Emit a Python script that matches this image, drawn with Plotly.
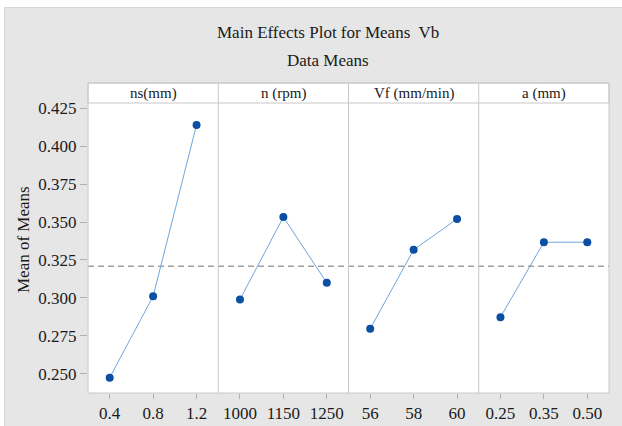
import plotly.graph_objects as go

# ---- data ----
factors = ["ns(mm)", "n (rpm)", "Vf (mm/min)", "a (mm)"]
ns_levels = ["0.4", "0.8", "1.2"]
ns_means = [0.2474, 0.3011, 0.4140]
n_levels = ["1000", "1150", "1250"]
n_means = [0.2989, 0.3533, 0.3099]
vf_levels = ["56", "58", "60"]
vf_means = [0.2796, 0.3317, 0.3520]
a_levels = ["0.25", "0.35", "0.50"]
a_means = [0.2873, 0.3367, 0.3367]
grand_mean = 0.3208
y_ticks = [0.250, 0.275, 0.300, 0.325, 0.350, 0.375, 0.400, 0.425]

levels = [ns_levels, n_levels, vf_levels, a_levels]
means = [ns_means, n_means, vf_means, a_means]

FONT = "Liberation Serif"
BORDER = "#C8C8C8"
TXT = "#1a1a1a"
W, H = 622, 426
L, R, T, B = 88, 13, 103, 33
PW = W - L - R
PH = H - T - B

def px_x(p):
    return (p - L) / PW

def px_y(p):
    return (H - B - p) / PH

fig = go.Figure()
for i in range(4):
    xa = "x" if i == 0 else f"x{i+1}"
    fig.add_trace(go.Scatter(
        x=levels[i], y=means[i], xaxis=xa, yaxis="y",
        mode="lines+markers",
        line=dict(color="#6FA6DD", width=1),
        marker=dict(color="#0A4FA3", size=8),
        showlegend=False, hoverinfo="x+y"))

layout = dict(
    width=W, height=H, autosize=False,
    margin=dict(l=L, r=R, t=T, b=B, pad=0, autoexpand=False),
    paper_bgcolor="#E6E6E6",
    plot_bgcolor="white",
    font=dict(family=FONT, size=17, color=TXT),
    showlegend=False,
    yaxis=dict(range=[0.23727, 0.42849], tickvals=y_ticks, tickformat=".3f",
               ticks="outside", ticklen=7, tickcolor="#B0B0B0",
               showgrid=False, zeroline=False, showline=False,
               automargin=False,
               tickfont=dict(family=FONT, size=17, color=TXT),
               anchor="x"),
)
for i in range(4):
    key = "xaxis" if i == 0 else f"xaxis{i+1}"
    layout[key] = dict(domain=[i / 4, (i + 1) / 4], type="category",
                       range=[-0.5, 2.5], anchor="y",
                       ticks="outside", ticklen=5, tickcolor="#B0B0B0",
                       automargin=False,
                       showgrid=False, zeroline=False, showline=False,
                       tickfont=dict(family=FONT, size=17, color=TXT))
fig.update_layout(**layout)

hdr_top = px_y(83)
shapes = []
# white strips at top/left edge of the picture
shapes.append(dict(type="rect", xref="paper", yref="paper",
                   x0=px_x(0), x1=px_x(W), y0=px_y(7), y1=px_y(0),
                   fillcolor="white", line=dict(width=0), layer="above"))
shapes.append(dict(type="rect", xref="paper", yref="paper",
                   x0=px_x(0), x1=px_x(4), y0=px_y(H), y1=px_y(0),
                   fillcolor="white", line=dict(width=0), layer="above"))
shapes.append(dict(type="line", xref="paper", yref="paper",
                   x0=px_x(4), x1=px_x(W), y0=px_y(7.5), y1=px_y(7.5),
                   line=dict(color="#D6D6D6", width=1)))
shapes.append(dict(type="line", xref="paper", yref="paper",
                   x0=px_x(4.5), x1=px_x(4.5), y0=px_y(H), y1=px_y(7),
                   line=dict(color="#D6D6D6", width=1)))
# header strip
shapes.append(dict(type="rect", xref="paper", yref="paper",
                   x0=0, x1=1, y0=1, y1=hdr_top,
                   fillcolor="white", line=dict(color=BORDER, width=1)))
# outer frame
shapes.append(dict(type="rect", xref="paper", yref="paper",
                   x0=0, x1=1, y0=0, y1=hdr_top,
                   line=dict(color=BORDER, width=1)))
for d in (0.25, 0.5, 0.75):
    shapes.append(dict(type="line", xref="paper", yref="paper",
                       x0=d, x1=d, y0=0, y1=hdr_top,
                       line=dict(color=BORDER, width=1)))
# reference line (grand mean)
shapes.append(dict(type="line", xref="paper", yref="y",
                   x0=0, x1=1, y0=grand_mean, y1=grand_mean,
                   line=dict(color="#A0A0A0", width=1.5, dash="6px,4px"),
                   layer="below"))
fig.update_layout(shapes=shapes)

ann = []
for i, f in enumerate(factors):
    ann.append(dict(text=f, xref="paper", yref="paper",
                    x=(i + 0.5) / 4, y=(1 + hdr_top) / 2,
                    xanchor="center", yanchor="middle", showarrow=False,
                    font=dict(family=FONT, size=15, color=TXT)))
ann.append(dict(text="Main Effects Plot for Means  Vb", xref="paper", yref="paper",
                x=px_x(328), y=px_y(32), xanchor="center", yanchor="middle",
                showarrow=False, font=dict(family=FONT, size=17, color=TXT)))
ann.append(dict(text="Data Means", xref="paper", yref="paper",
                x=px_x(328), y=px_y(61), xanchor="center", yanchor="middle",
                showarrow=False, font=dict(family=FONT, size=17, color=TXT)))
ann.append(dict(text="Mean of Means", xref="paper", yref="paper",
                x=px_x(24), y=px_y(240), xanchor="center", yanchor="middle",
                textangle=-90, showarrow=False,
                font=dict(family=FONT, size=17, color=TXT)))
fig.update_layout(annotations=ann)

fig.write_html("out.html")
